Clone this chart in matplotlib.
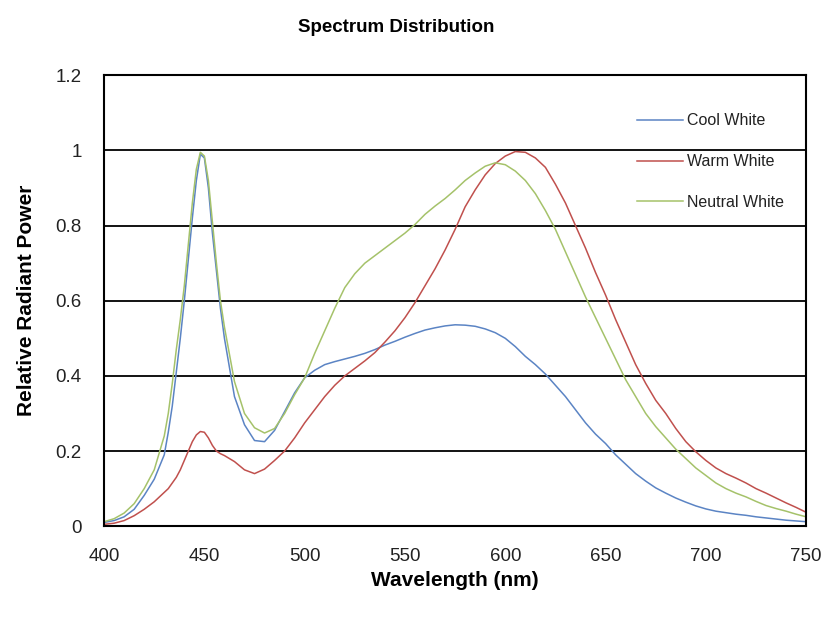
import matplotlib
matplotlib.use("Agg")
import matplotlib.pyplot as plt

plt.rcParams['font.family'] = ['Liberation Sans', 'DejaVu Sans']

# wavelength grid (nm)
wavelength = [400, 405, 410, 415, 420, 425, 430, 432, 434, 436, 438, 440, 442, 444,
              446, 448, 450, 452, 454, 456, 458, 460, 465, 470, 475, 480, 485, 490,
              495, 500, 505, 510, 515, 520, 525, 530, 535, 540, 545, 550, 555, 560,
              565, 570, 575, 580, 585, 590, 595, 600, 605, 610, 615, 620, 625, 630,
              635, 640, 645, 650, 655, 660, 665, 670, 675, 680, 685, 690, 695, 700,
              705, 710, 715, 720, 725, 730, 735, 740, 745, 750]

cool_white = [0.01, 0.015, 0.025, 0.045, 0.082, 0.125, 0.19, 0.25, 0.32, 0.41, 0.5,
              0.6, 0.71, 0.82, 0.92, 0.99, 0.98, 0.9, 0.78, 0.68, 0.58, 0.5, 0.345,
              0.27, 0.228, 0.225, 0.255, 0.305, 0.355, 0.395, 0.415, 0.43, 0.438,
              0.445, 0.452, 0.46, 0.47, 0.482, 0.492, 0.503, 0.513, 0.522, 0.528,
              0.533, 0.536, 0.535, 0.532, 0.525, 0.515, 0.5, 0.478, 0.452, 0.43,
              0.405, 0.375, 0.345, 0.31, 0.275, 0.245, 0.22, 0.19, 0.165, 0.14, 0.12,
              0.102, 0.088, 0.075, 0.064, 0.054, 0.046, 0.04, 0.036, 0.032, 0.029,
              0.025, 0.022, 0.019, 0.016, 0.014, 0.012]

warm_white = [0.005, 0.008, 0.015, 0.028, 0.045, 0.065, 0.09, 0.1, 0.115, 0.13, 0.15,
              0.175, 0.2, 0.225, 0.243, 0.252, 0.25, 0.235, 0.215, 0.2, 0.193, 0.188,
              0.172, 0.15, 0.14, 0.152, 0.175, 0.2, 0.235, 0.275, 0.31, 0.345, 0.375,
              0.4, 0.42, 0.44, 0.462, 0.49, 0.52, 0.555, 0.595, 0.64, 0.685, 0.735,
              0.79, 0.85, 0.895, 0.935, 0.965, 0.985, 0.997, 0.995, 0.98, 0.955, 0.91,
              0.86, 0.8, 0.74, 0.675, 0.615, 0.55, 0.49, 0.43, 0.38, 0.335, 0.3, 0.26,
              0.225, 0.198, 0.175, 0.155, 0.14, 0.128, 0.115, 0.1, 0.088, 0.075,
              0.062, 0.05, 0.037]

neutral_white = [0.012, 0.02, 0.035, 0.06, 0.1, 0.15, 0.24, 0.3, 0.38, 0.47, 0.55,
                 0.64, 0.75, 0.86, 0.95, 0.995, 0.985, 0.92, 0.81, 0.7, 0.6, 0.53,
                 0.385, 0.3, 0.262, 0.248, 0.26, 0.3, 0.35, 0.395, 0.46, 0.52, 0.58,
                 0.635, 0.672, 0.7, 0.72, 0.74, 0.76, 0.78, 0.803, 0.83, 0.852, 0.872,
                 0.895, 0.92, 0.94, 0.958, 0.967, 0.962, 0.945, 0.92, 0.885, 0.84,
                 0.79, 0.73, 0.67, 0.61, 0.555, 0.5, 0.445, 0.39, 0.345, 0.3, 0.265,
                 0.235, 0.205, 0.18, 0.155, 0.135, 0.115, 0.1, 0.088, 0.078, 0.066,
                 0.055, 0.047, 0.04, 0.032, 0.025]

x_ticks = [400, 450, 500, 550, 600, 650, 700, 750]
y_ticks = [0, 0.2, 0.4, 0.6, 0.8, 1, 1.2]
y_tick_labels = ['0', '0.2', '0.4', '0.6', '0.8', '1', '1.2']

fig = plt.figure(figsize=(8.26, 6.22), dpi=100)
ax = fig.add_axes([0.126, 0.154, 0.850, 0.725])

ax.plot(wavelength, cool_white, color='#5b84c4', lw=1.1, label='Cool White')
ax.plot(wavelength, warm_white, color='#c0504d', lw=1.1, label='Warm White')
ax.plot(wavelength, neutral_white, color='#a5c26a', lw=1.1, label='Neutral White')

ax.set_xlim(400, 750)
ax.set_ylim(0, 1.2)
ax.set_xticks(x_ticks)
ax.set_yticks(y_ticks)
ax.set_yticklabels(y_tick_labels)
ax.tick_params(length=0, labelsize=13.5, colors='#222222')
ax.tick_params(axis='y', pad=16)
ax.tick_params(axis='x', pad=16)

ax.grid(axis='y', color='black', lw=1.3)
ax.set_axisbelow(True)
for s in ax.spines.values():
    s.set_color('black')
    s.set_linewidth(1.5)

ax.set_xlabel('Wavelength (nm)', fontsize=15, fontweight='bold', labelpad=4)
ax.set_ylabel('Relative Radiant Power', fontsize=15, fontweight='bold', labelpad=14)
fig.text(396 / 826, 1 - 27 / 622, 'Spectrum Distribution', fontsize=13.5,
         fontweight='bold', ha='center', va='center')

leg = ax.legend(loc='upper left', bbox_to_anchor=(0.75, 0.93), frameon=False,
                fontsize=11.5, handlelength=2.9, handletextpad=0.25,
                labelspacing=1.62, borderaxespad=0)
for t in leg.get_texts():
    t.set_color('#222222')

fig.savefig('out.png', dpi=100)
